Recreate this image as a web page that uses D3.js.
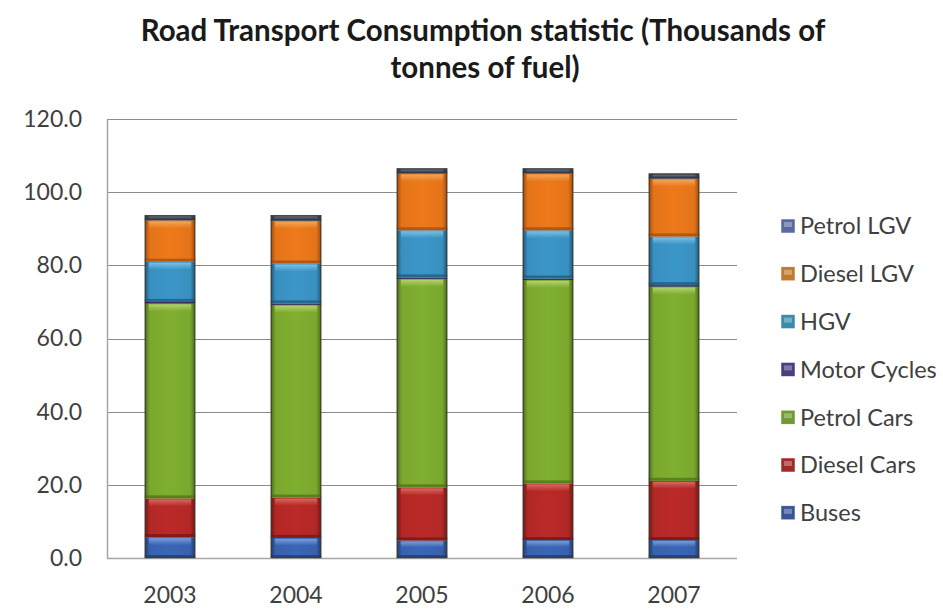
<!DOCTYPE html>
<html>
<head>
<meta charset="utf-8">
<script src="https://cdn.jsdelivr.net/npm/d3@7/dist/d3.min.js"></script>
<style>
  html, body { margin: 0; padding: 0; background: #ffffff; }
  svg { display: block; }
</style>
</head>
<body>
<svg id="chart" width="943" height="612"></svg>
<script>
// Road transport fuel consumption, thousands of tonnes, stacked bottom to top
const years = ["2003", "2004", "2005", "2006", "2007"];
const buses        = [5.7, 5.5, 4.8, 4.9, 4.9];
const dieselCars   = [10.6, 11.0, 14.5, 15.5, 16.2];
const petrolCars   = [53.3, 52.7, 57.0, 55.6, 53.1];
const motorCycles  = [0.4, 0.4, 0.4, 0.4, 0.4];
const hgv          = [11.0, 10.9, 12.9, 13.2, 13.3];
const dieselLgv    = [11.3, 11.7, 15.5, 15.5, 15.8];
const petrolLgv    = [1.4, 1.5, 1.4, 1.4, 1.4];
const yTicks = [0, 20, 40, 60, 80, 100, 120];

const seriesNames = ["Buses", "Diesel Cars", "Petrol Cars", "Motor Cycles", "HGV", "Diesel LGV", "Petrol LGV"];
const seriesValues = [buses, dieselCars, petrolCars, motorCycles, hgv, dieselLgv, petrolLgv];

// fill colours: [base, edge shade, highlight]
const palette = {
  "Buses":        ["#3862ae", "#203c74", "#86a8e0"],
  "Diesel Cars":  ["#b22826", "#731513", "#dc7468"],
  "Petrol Cars":  ["#7aa82e", "#4d7118", "#bcd878"],
  "Motor Cycles": ["#3a2d5e", "#22183a", "#65578f"],
  "HGV":          ["#3990c0", "#1e5a7e", "#86c8e8"],
  "Diesel LGV":   ["#e47419", "#a44c0e", "#f4ae62"],
  "Petrol LGV":   ["#474f62", "#2c3242", "#737f98"]
};
const legendColors = {
  "Buses": "#3a5698", "Diesel Cars": "#a02a2a", "Petrol Cars": "#6f9a32",
  "Motor Cycles": "#4c3d80", "HGV": "#3a8cac", "Diesel LGV": "#c07a30", "Petrol LGV": "#5b6a9e"
};

const table = years.map((y, i) => {
  const row = { year: y };
  seriesNames.forEach((n, k) => { row[n] = seriesValues[k][i]; });
  return row;
});
const stacked = d3.stack().keys(seriesNames)(table);

const svg = d3.select("#chart");
const margin = { left: 107, right: 206, top: 119, bottom: 54 };
const W = 943, H = 612;
const font = "Lato, 'Open Sans', sans-serif";

const x = d3.scaleBand().domain(years)
  .range([margin.left, W - margin.right]).paddingInner(0.6).paddingOuter(0.3);
const y = d3.scaleLinear().domain([0, 120]).range([H - margin.bottom, margin.top]);

// gradients giving the bars their rounded, glossy look
const defs = svg.append("defs");
seriesNames.forEach((n, k) => {
  const c = palette[n];
  const g = defs.append("linearGradient").attr("id", "g" + k)
    .attr("x1", "0").attr("x2", "1").attr("y1", "0").attr("y2", "0");
  g.append("stop").attr("offset", "0%").attr("stop-color", c[1]);
  g.append("stop").attr("offset", "10%").attr("stop-color", c[0]);
  g.append("stop").attr("offset", "50%").attr("stop-color", d3.color(c[0]).brighter(0.12));
  g.append("stop").attr("offset", "90%").attr("stop-color", c[0]);
  g.append("stop").attr("offset", "100%").attr("stop-color", c[1]);
  // soft highlight fading down from the top edge of a segment
  const h = defs.append("linearGradient").attr("id", "h" + k)
    .attr("x1", "0").attr("x2", "0").attr("y1", "0").attr("y2", "1");
  h.append("stop").attr("offset", "0%").attr("stop-color", c[2]).attr("stop-opacity", 0.85);
  h.append("stop").attr("offset", "100%").attr("stop-color", c[2]).attr("stop-opacity", 0);
});

// gridlines
svg.append("g").selectAll("line").data(yTicks.filter(t => t > 0)).join("line")
  .attr("x1", margin.left).attr("x2", W - margin.right)
  .attr("y1", d => Math.round(y(d)) + 0.5).attr("y2", d => Math.round(y(d)) + 0.5)
  .attr("stroke", "#8c8c8c").attr("stroke-width", 1.2);

// y axis
const yAxis = d3.axisLeft(y).tickValues(yTicks).tickFormat(d3.format(".1f")).tickSize(0).tickPadding(25);
const ya = svg.append("g").attr("transform", `translate(${margin.left},0)`).call(yAxis);
ya.select(".domain").attr("stroke", "#a6a6a6").attr("stroke-width", 1.5);
ya.selectAll("text").attr("fill", "#404040").attr("font-family", font).attr("font-size", "23px");

// x axis
const xAxis = d3.axisBottom(x).tickSize(0).tickPadding(29);
const xa = svg.append("g").attr("transform", `translate(0,${H - margin.bottom})`).call(xAxis);
xa.select(".domain").attr("stroke", "#a6a6a6").attr("stroke-width", 1.5)
  .attr("d", `M${margin.left},0.5H${W - margin.right}`);
xa.selectAll("text").attr("fill", "#404040").attr("font-family", font).attr("font-size", "23px");

// stacked segments
const layers = svg.append("g").selectAll("g").data(stacked).join("g");
layers.each(function (layer, k) {
  const g = d3.select(this);
  const c = palette[layer.key];
  const segs = g.selectAll("g").data(layer).join("g");
  segs.append("rect")
    .attr("x", d => x(d.data.year))
    .attr("width", x.bandwidth())
    .attr("y", d => y(d[1]))
    .attr("height", d => y(d[0]) - y(d[1]))
    .attr("fill", `url(#g${k})`);
  segs.append("rect")
    .attr("x", d => x(d.data.year) + 4)
    .attr("width", x.bandwidth() - 8)
    .attr("y", d => y(d[1]) + 1)
    .attr("height", d => Math.min(7, Math.max(0, (y(d[0]) - y(d[1])) / 3)))
    .attr("fill", `url(#h${k})`);
  segs.append("rect")
    .attr("x", d => x(d.data.year))
    .attr("width", x.bandwidth())
    .attr("y", d => y(d[0]) - Math.min(3, (y(d[0]) - y(d[1])) / 3))
    .attr("height", d => Math.min(3, (y(d[0]) - y(d[1])) / 3))
    .attr("fill", c[1]).attr("opacity", 0.75);
});

// thin dark outline around each whole bar
svg.append("g").selectAll("rect").data(table).join("rect")
  .attr("x", d => x(d.year) + 0.5)
  .attr("width", x.bandwidth() - 1)
  .attr("y", d => y(d3.sum(seriesNames, n => d[n])) + 0.5)
  .attr("height", d => y(0) - y(d3.sum(seriesNames, n => d[n])) - 1)
  .attr("fill", "none").attr("stroke", "#3a3a32").attr("stroke-opacity", 0.7).attr("stroke-width", 1.5);

// title
const title = svg.append("text").attr("text-anchor", "middle")
  .attr("font-family", font).attr("font-weight", "bold")
  .attr("font-size", "29.5px").attr("fill", "#1a1a1a");
title.append("tspan").attr("x", 483).attr("y", 41).text("Road Transport  Consumption statistic (Thousands of");
title.append("tspan").attr("x", 485).attr("y", 78).text("tonnes of fuel)");

// legend, top entry is the top of the stack
const legendOrder = seriesNames.slice().reverse();
const lg = svg.append("g").selectAll("g").data(legendOrder).join("g")
  .attr("transform", (d, i) => `translate(781,${226 + i * 47.8})`);
lg.append("rect").attr("x", 0).attr("y", -7).attr("width", 14).attr("height", 14)
  .attr("fill", d => legendColors[d]).attr("stroke", "#ffffff").attr("stroke-width", 0.5);
lg.append("rect").attr("x", 3).attr("y", -4).attr("width", 8).attr("height", 5)
  .attr("fill", "#ffffff").attr("opacity", 0.3);
lg.append("text").attr("x", 19).attr("y", 0).attr("dy", "0.36em")
  .attr("font-family", font).attr("font-size", "23.5px")
  .attr("fill", "#404040").text(d => d);
</script>
</body>
</html>
